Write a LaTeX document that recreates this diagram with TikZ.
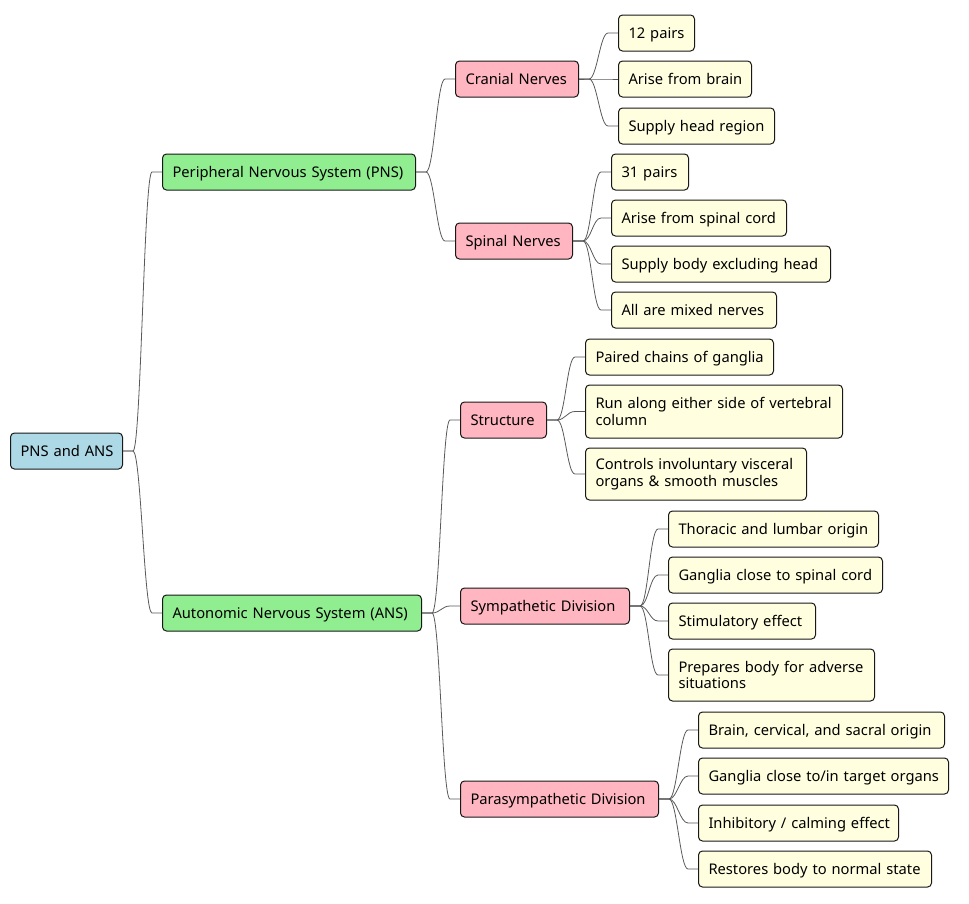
\documentclass[tikz,border=0pt]{standalone}
\usepackage{fontspec}
\setmainfont{Noto Sans}
\definecolor{rootc}{HTML}{ADD8E6}
\definecolor{greenc}{HTML}{90EE90}
\definecolor{pinkc}{HTML}{FFB6C1}
\definecolor{leafc}{HTML}{FFFFE0}
\definecolor{edgec}{HTML}{181818}
\definecolor{linec}{HTML}{595959}
\newcommand\conn[2]{\draw[conn] (#1.east) -- ++(10,0) .. controls +(8,0) and +(-8,0) .. ([xshift=-10pt]#2.west) -- (#2.west);}
\begin{document}
\begin{tikzpicture}[x=1pt,y=-1pt,
  box/.style={draw=edgec, line width=1pt, rounded corners=4pt, anchor=west, inner xsep=10pt, inner ysep=0pt, minimum height=36pt, align=left, font=\fontsize{14.7}{16.8}\selectfont, text height=16pt, text depth=4.4pt},
  two/.style={text height={}, text depth={}, minimum height=52pt},
  rootbox/.style={box, fill=rootc},
  sysbox/.style={box, fill=greenc},
  subbox/.style={box, fill=pinkc},
  leafbox/.style={box, fill=leafc},
  conn/.style={draw=linec, line width=0.8pt}]
\useasboundingbox (0,0) rectangle (969,903);
\node[rootbox, text width=92pt] (root) at (10,451) {\mbox{PNS and ANS}};
\node[sysbox, text width=233pt] (pns) at (162,172) {\mbox{Peripheral Nervous System (PNS)}};
\node[sysbox, text width=239pt] (ans) at (162,613) {\mbox{Autonomic Nervous System (ANS)}};
\node[subbox, text width=103pt] (cran) at (455,79) {\mbox{Cranial Nerves}};
\node[subbox, text width=97pt] (spin) at (455,241) {\mbox{Spinal Nerves}};
\node[leafbox, text width=56pt] (c1) at (618,33) {\mbox{12 pairs}};
\node[leafbox, text width=113pt] (c2) at (618,79) {\mbox{Arise from brain}};
\node[leafbox, text width=136pt] (c3) at (618,126) {\mbox{Supply head region}};
\node[leafbox, text width=57pt] (s1) at (611,172) {\mbox{31 pairs}};
\node[leafbox, text width=155pt] (s2) at (611,218) {\mbox{Arise from spinal cord}};
\node[leafbox, text width=199pt] (s3) at (611,264) {\mbox{Supply body excluding head}};
\node[leafbox, text width=145pt] (s4) at (611,310) {\mbox{All are mixed nerves}};
\node[subbox, text width=66pt] (str) at (460,420) {\mbox{Structure}};
\node[leafbox, text width=168pt] (t1) at (585,357) {\mbox{Paired chains of ganglia}};
\node[leafbox, two, text width=237pt, minimum height=53pt] (t2) at (585,411.5) {\mbox{Run along either side of vertebral}\\\mbox{column}};
\node[leafbox, two, text width=201pt] (t3) at (585,474) {\mbox{Controls involuntary visceral}\\\mbox{organs \& smooth muscles}};
\node[subbox, text width=149pt] (sym) at (460,606) {\mbox{Sympathetic Division}};
\node[leafbox, text width=190pt] (y1) at (668,529) {\mbox{Thoracic and lumbar origin}};
\node[leafbox, text width=194pt] (y2) at (668,575) {\mbox{Ganglia close to spinal cord}};
\node[leafbox, text width=127pt] (y3) at (668,621) {\mbox{Stimulatory effect}};
\node[leafbox, two, text width=186pt] (y4) at (668,675) {\mbox{Prepares body for adverse}\\\mbox{situations}};
\node[subbox, text width=178pt] (par) at (460,799) {\mbox{Parasympathetic Division}};
\node[leafbox, text width=226pt] (p1) at (698,730) {\mbox{Brain, cervical, and sacral origin}};
\node[leafbox, text width=230pt] (p2) at (698,776) {\mbox{Ganglia close to/in target organs}};
\node[leafbox, text width=180pt] (p3) at (698,823) {\mbox{Inhibitory / calming effect}};
\node[leafbox, text width=213pt] (p4) at (698,869) {\mbox{Restores body to normal state}};
\conn{root}{pns}\conn{root}{ans}
\conn{pns}{cran}\conn{pns}{spin}
\conn{cran}{c1}\conn{cran}{c2}\conn{cran}{c3}
\conn{spin}{s1}\conn{spin}{s2}\conn{spin}{s3}\conn{spin}{s4}
\conn{ans}{str}\conn{ans}{sym}\conn{ans}{par}
\conn{str}{t1}\conn{str}{t2}\conn{str}{t3}
\conn{sym}{y1}\conn{sym}{y2}\conn{sym}{y3}\conn{sym}{y4}
\conn{par}{p1}\conn{par}{p2}\conn{par}{p3}\conn{par}{p4}
\end{tikzpicture}
\end{document}
